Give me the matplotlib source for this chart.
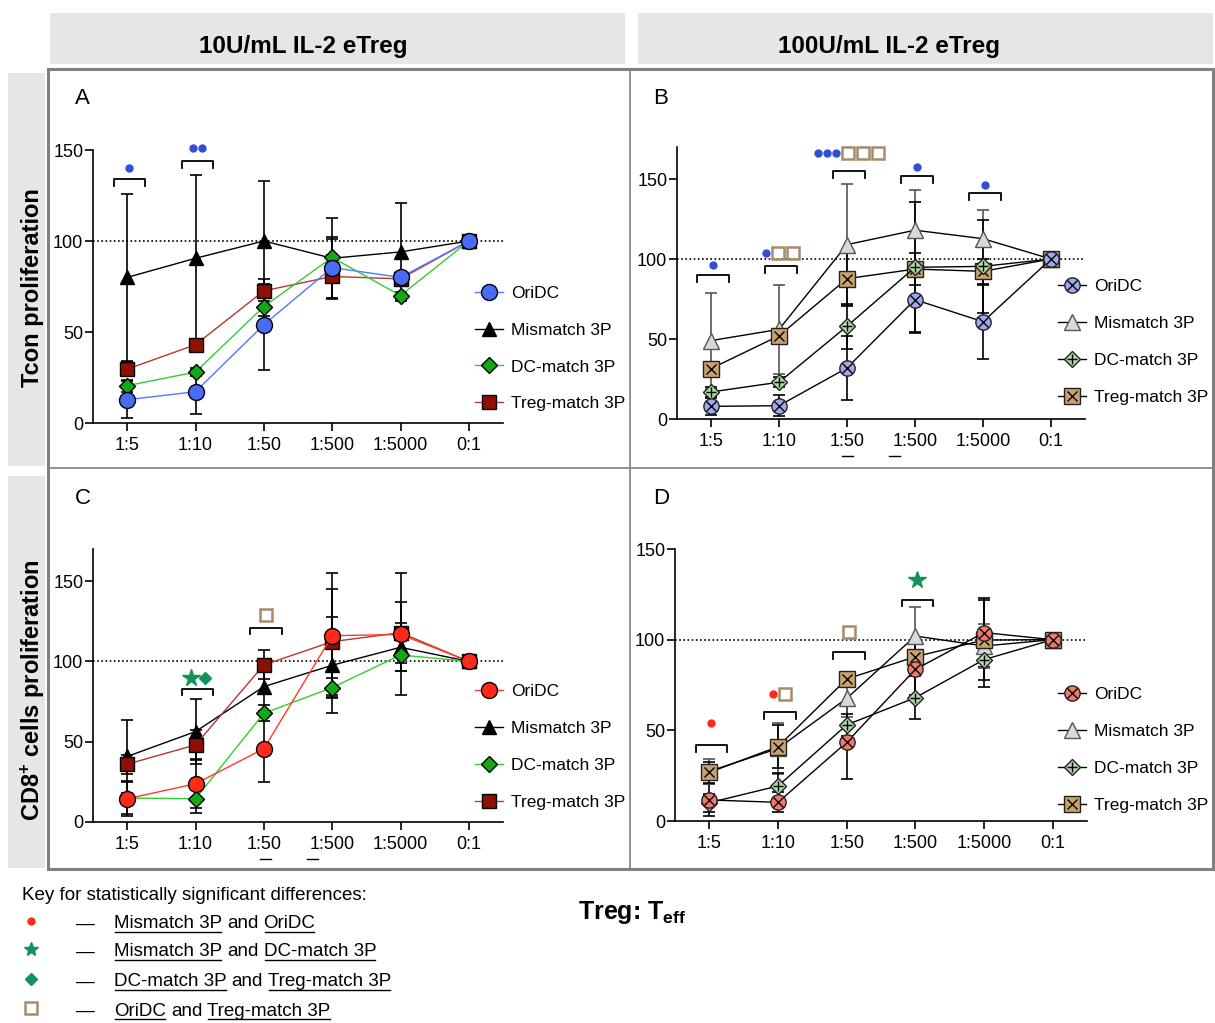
import matplotlib
matplotlib.use("Agg")
import matplotlib.pyplot as plt
from matplotlib.transforms import offset_copy

plt.rcParams['font.family'] = ['Liberation Sans', 'DejaVu Sans']
plt.rcParams['mathtext.default'] = 'regular'
plt.rcParams['mathtext.fontset'] = 'custom'
plt.rcParams['mathtext.rm'] = 'Liberation Sans'
plt.rcParams['mathtext.bf'] = 'Liberation Sans:bold'

W, H = 1215, 1023

# ---- data ----
categories = ["1:5", "1:10", "1:50", "1:500", "1:5000", "0:1"]
series = ["OriDC", "Mismatch 3P", "DC-match 3P", "Treg-match 3P"]

# panel A: Tcon, 10U/mL
A_ori = [12.8, 17.2, 54, 85.4, 80, 100]
A_mis = [80, 90.5, 100, 90.5, 94, 100]
A_dc = [20.5, 28, 64, 91, 70, 100]
A_treg = [29.6, 43, 72.6, 80.5, 79.2, 100]
A_ori_err = [10.3, 12, 25, 17, 3, 0]
A_mis_err = [46, 46, 33, 22, 27, 0]
A_dc_err = [3.3, 2, 5, 10, 2, 0]
A_treg_err = [4, 2, 4, 12, 3, 0]

# panel B: Tcon, 100U/mL
B_ori = [7.9, 8.3, 31.9, 74.6, 60.8, 100]
B_mis = [49, 56, 109, 118, 112.7, 100]
B_dc = [16.9, 23, 58, 94.8, 95.4, 100]
B_treg = [31.5, 52, 87.7, 93.7, 92.3, 100]
B_ori_err = [5.2, 6.5, 20, 20, 23, 0]
B_mis_err = [30, 28, 38, 25, 18, 0]
B_dc_err = [3, 3, 14, 41, 29, 0]
B_treg_err = [4, 4, 17, 10, 8, 0]

# panel C: CD8+, 10U/mL
C_ori = [14.5, 23.8, 45.6, 116, 116.8, 100]
C_mis = [40.8, 56.3, 84.3, 97.6, 108.8, 100]
C_dc = [14.9, 14.5, 67.7, 83.7, 104, 100]
C_treg = [36, 48, 97.8, 112.3, 117.9, 100]
C_ori_err = [11, 15, 21, 39, 38, 0]
C_mis_err = [23, 20, 15, 30, 15, 0]
C_dc_err = [10, 9, 5, 6, 10, 0]
C_treg_err = [6, 9, 9, 33, 19, 0]

# panel D: CD8+, 100U/mL
D_ori = [11.6, 10.3, 43.4, 83.6, 103.9, 100]
D_mis = [27.4, 40, 67.6, 102, 96.5, 100]
D_dc = [10.1, 19.3, 53, 68, 89, 100]
D_treg = [26.8, 41, 78.3, 90.6, 99.8, 100]
D_ori_err = [9, 5.5, 20, 14, 19, 0]
D_mis_err = [7, 14, 10, 16, 12, 0]
D_dc_err = [5, 7, 6, 12, 15, 0]
D_treg_err = [6, 12, 4, 8, 22, 0]

# significance brackets: (category index, bracket level, symbol level, symbols)
# b = blue dot, r = red dot, s = open square, * = star, d = diamond
A_sig = [(0, 134, 140, "b"), (1, 144, 151, "bb")]
B_sig = [(0, 90, 96.5, "b"), (1, 95.5, 104, "bss"), (2, 155, 166.5, "bbbsss"),
         (3, 152, 157.5, "b"), (4, 141, 146.5, "b")]
C_sig = [(1, 83, 89.5, "*d"), (2, 121, 129, "s")]
D_sig = [(0, 42, 54, "r"), (1, 60, 70, "rs"), (2, 93, 104.5, "s"), (3, 122, 133, "*")]

key_rows = [("r", "Mismatch 3P", "OriDC"),
            ("k", "Mismatch 3P", "DC-match 3P"),
            ("d", "DC-match 3P", "Treg-match 3P"),
            ("s", "OriDC", "Treg-match 3P")]

fig = plt.figure(figsize=(W / 100, H / 100), dpi=100)
bg = fig.add_axes([0, 0, 1, 1])
bg.set_xlim(0, W)
bg.set_ylim(H, 0)
bg.axis('off')

# header boxes and row strips
grey = '#e6e6e6'
bg.add_patch(plt.Rectangle((50, 13), 575, 51, color=grey, lw=0))
bg.add_patch(plt.Rectangle((638, 13), 575, 51, color=grey, lw=0))
bg.add_patch(plt.Rectangle((8, 73), 37, 393, color=grey, lw=0))
bg.add_patch(plt.Rectangle((8, 476), 37, 392, color=grey, lw=0))
bg.text(303, 47, "10U/mL IL-2 eTreg", ha='center', va='center', fontsize=17.5, fontweight='bold')
bg.text(889, 46, "100U/mL IL-2 eTreg", ha='center', va='center', fontsize=17.5, fontweight='bold')
bg.text(33, 288, "Tcon proliferation", rotation=90, ha='center', va='center',
        fontsize=17, fontweight='bold')
bg.text(33, 690, "CD8$^{+}$ cells proliferation", rotation=90, ha='center', va='center',
        fontsize=17, fontweight='bold')

# panel frame
fc = '#808080'
bg.add_patch(plt.Rectangle((48, 69), 1165, 800, fill=False, ec=fc, lw=2.2))
bg.plot([630, 630], [69, 869], color=fc, lw=1.2)
bg.plot([48, 1213], [468, 468], color=fc, lw=1.2)
for lx, ly, s in [(75, 98, "A"), (653, 98, "B"), (75, 498, "C"), (653, 498, "D")]:
    bg.text(lx, ly, s, ha='left', va='center', fontsize=16)
# small dashes under the axes
for x0, y0 in [(842, 456), (889, 456), (260, 859), (307, 859)]:
    bg.plot([x0, x0 + 11], [y0, y0], color='black', lw=1)

SYM = {
    'b': dict(marker='o', ms=5, color='#2f4fd4', mec='#2f4fd4', w=9),
    'r': dict(marker='o', ms=5, color='#ff2a1a', mec='#ff2a1a', w=9),
    's': dict(marker='s', ms=8.5, color='none', mec='#a68a6c', mew=1.8, w=15),
    '*': dict(marker='*', ms=13, color='#12935a', mec='#12935a', w=15),
    'k': dict(marker='*', ms=10, color='#12935a', mec='#12935a', w=12),
    'd': dict(marker='D', ms=6, color='#12935a', mec='#12935a', w=14),
}


def draw_symbols(ax, x, y, syms, transform_base):
    widths = [SYM[c]['w'] for c in syms]
    total = sum(widths)
    pos = -total / 2
    for c, w in zip(syms, widths):
        st = SYM[c]
        tr = offset_copy(transform_base, fig=fig, x=pos + w / 2, y=0, units='dots')
        ax.plot([x], [y], ls='none', marker=st['marker'], ms=st['ms'],
                mfc=st['color'], mec=st['mec'], mew=st.get('mew', 1),
                transform=tr, clip_on=False, zorder=6)
        pos += w


def make_panel(box, ymax, vals, errs, style, faces, sigs, legend_pos, bracket_drop):
    l, t, r, b = box
    ax = fig.add_axes([l / W, 1 - b / H, (r - l) / W, (b - t) / H])
    ax.patch.set_alpha(0)
    x = list(range(len(categories)))
    ax.axhline(100, color='black', ls=(0, (1, 1.5)), lw=1.2, zorder=1)
    order = [1, 3, 2, 0]
    handles = {}
    for k in order:
        y = vals[k]
        e = errs[k]
        ecol = '#555555' if (style == 'crossed' and k == 1) else 'black'
        ax.errorbar(x, y, yerr=e, fmt='none', ecolor=ecol, elinewidth=1.2,
                    capsize=4.5, capthick=1.2, zorder=2 + k * 0.01)
        mk = ['o', '^', 'D', 's'][k]
        z = 3 + order.index(k) * 0.1
        if style == 'solid':
            ms = [11.5, 10.5, 8, 10.5][k]
            ln, = ax.plot(x, y, color=faces[k][1], lw=1, marker=mk, ms=ms, mfc=faces[k][0],
                          mec='black', mew=1, zorder=z, clip_on=False)
            handles[k] = ln
        else:
            ms = [11, 12, 8, 11][k]
            ln, = ax.plot(x, y, color='black', lw=1, marker=mk, ms=ms, mfc=faces[k][0],
                          mec='#222222' if k != 1 else '#555555', mew=1,
                          zorder=z, clip_on=False)
            cross = ['x', None, '+', 'x'][k]
            if cross:
                cm, = ax.plot(x, y, ls='none', marker=cross, ms=[6.5, 0, 7.5, 7][k],
                              color='black', mew=1, zorder=z + 0.05, clip_on=False)
                handles[k] = (ln, cm)
            else:
                handles[k] = ln
    ax.set_xlim(-0.5, 5.5)
    ax.set_ylim(0, ymax)
    ax.set_xticks(x)
    ax.set_xticklabels(categories)
    ax.set_yticks([0, 50, 100, 150])
    for s in ['top', 'right']:
        ax.spines[s].set_visible(False)
    for s in ['left', 'bottom']:
        ax.spines[s].set_linewidth(1.2)
    ax.tick_params(axis='both', length=6, width=1.2, labelsize=13)
    ax.tick_params(axis='y', pad=1)
    ax.tick_params(axis='x', pad=4)
    # significance brackets
    for ci, yb, ys, syms in sigs:
        xc = ci + 0.03
        hw = 0.23
        ax.plot([xc - hw, xc - hw, xc + hw, xc + hw], [yb - bracket_drop, yb, yb, yb - bracket_drop],
                color='black', lw=1.3, clip_on=False, zorder=5)
        draw_symbols(ax, xc, ys, syms, ax.transData)
    leg = ax.legend([handles[k] for k in range(4)], series, loc='upper left',
                    bbox_to_anchor=legend_pos, frameon=False, fontsize=12.5,
                    handlelength=1.6, handletextpad=0.45, labelspacing=1.25,
                    borderaxespad=0, borderpad=0)
    leg.set_zorder(10)
    return ax


def ac_faces(ori_face, ori_line):
    return [(ori_face, ori_line), ('black', 'black'),
            ('#14a814', '#33cc33'), ('#8c1004', '#b5382b')]


B_faces = [('#9eaaf0', 'k'), ('#d9d9d9', 'k'), ('#aadba3', 'k'), ('#c9a26e', 'k')]
D_faces = [('#f2796b', 'k'), ('#d9d9d9', 'k'), ('#aadba3', 'k'), ('#c9a26e', 'k')]

make_panel((93, 150, 503, 423), 150, [A_ori, A_mis, A_dc, A_treg],
           [A_ori_err, A_mis_err, A_dc_err, A_treg_err], 'solid',
           ac_faces('#4a6cf5', '#5577ff'), A_sig, (0.932, 0.503), 3.7)
make_panel((677, 147, 1085, 419), 170, [B_ori, B_mis, B_dc, B_treg],
           [B_ori_err, B_mis_err, B_dc_err, B_treg_err], 'crossed',
           B_faces, B_sig, (0.934, 0.515), 4.2)
make_panel((93, 549, 503, 822), 170, [C_ori, C_mis, C_dc, C_treg],
           [C_ori_err, C_mis_err, C_dc_err, C_treg_err], 'solid',
           ac_faces('#ff2a1a', '#ff3a2a'), C_sig, (0.932, 0.505), 4.2)
make_panel((675, 549, 1087, 821), 150, [D_ori, D_mis, D_dc, D_treg],
           [D_ori_err, D_mis_err, D_dc_err, D_treg_err], 'crossed',
           D_faces, D_sig, (0.93, 0.492), 3.7)

# key for significance
bg.text(22, 895, "Key for statistically significant differences:", ha='left', va='center', fontsize=13.5)
renderer = fig.canvas.get_renderer()
row_y = [924, 952, 982, 1011]
for (sym, a, b), ry in zip(key_rows, row_y):
    draw_symbols(bg, 31, ry - 3, sym, bg.transData)
    bg.text(76, ry, "\u2014", ha='left', va='center', fontsize=13.5)
    xpos = 114
    for piece, under in [(a, True), ("and", False), (b, True)]:
        t = bg.text(xpos, ry, piece, ha='left', va='center', fontsize=13.5)
        bb = t.get_window_extent(renderer)
        if under:
            uy = H - bb.y0 - 1
            bg.plot([bb.x0 + 1, bb.x1 - 1], [uy, uy], color='black', lw=1)
        xpos = bb.x1 + 5

bg.text(578, 913, r"Treg: T$_{\mathbf{eff}}$", ha='left', va='center', fontsize=18, fontweight='bold')

fig.savefig("out.png", dpi=100)
